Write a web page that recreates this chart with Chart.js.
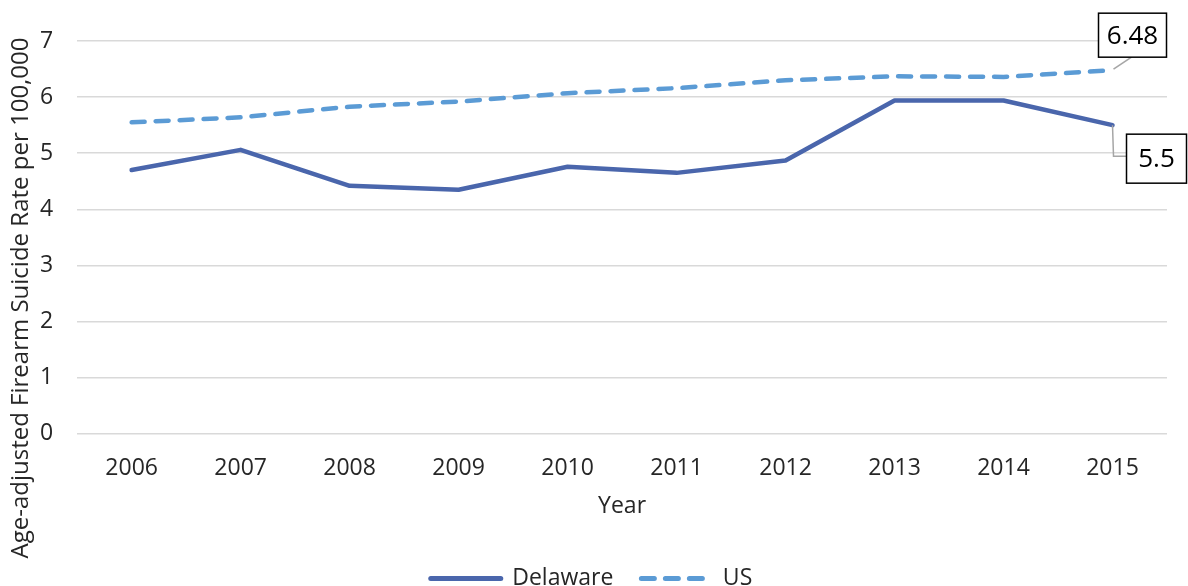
<!DOCTYPE html>
<html>
<head>
<meta charset="utf-8">
<script src="https://cdn.jsdelivr.net/npm/chart.js@4/dist/chart.umd.min.js"></script>
<style>
    html, body { margin: 0; padding: 0; background: #fff; }
    #wrap { width: 1188px; height: 586px; position: relative; }
</style>
</head>
<body>
<div id="wrap"><canvas id="myChart" width="1188" height="586"></canvas></div>
<script>
const years = ['2006', '2007', '2008', '2009', '2010', '2011', '2012', '2013', '2014', '2015'];
const delaware = [4.70, 5.06, 4.42, 4.35, 4.76, 4.65, 4.87, 5.94, 5.94, 5.5];
const us = [5.55, 5.64, 5.83, 5.92, 6.07, 6.16, 6.30, 6.37, 6.36, 6.48];
const yTicks = [0, 1, 2, 3, 4, 5, 6, 7];

const fontName = "'Open Sans', sans-serif";
const textColor = '#262626';

// y axis title, centred on the whole figure like the original
const yTitlePlugin = {
    id: 'yTitle',
    afterDraw: function (chart) {
        const ctx = chart.ctx;
        ctx.save();
        ctx.translate(21, 298);
        ctx.rotate(-Math.PI / 2);
        ctx.font = `24px ${fontName}`;
        ctx.fillStyle = textColor;
        ctx.textAlign = 'center';
        ctx.textBaseline = 'middle';
        ctx.fillText('Age-adjusted Firearm Suicide Rate per 100,000', 0, 0);
        ctx.restore();
    }
};

// boxed labels on the last point of each line
const lastLabelPlugin = {
    id: 'lastLabel',
    afterDatasetsDraw: function (chart) {
        const ctx = chart.ctx;
        const last = years.length - 1;
        const usPt = chart.getDatasetMeta(1).data[last];
        const dePt = chart.getDatasetMeta(0).data[last];

        ctx.save();
        ctx.strokeStyle = '#a6a6a6';
        ctx.lineWidth = 1.5;
        // leader to 6.48
        ctx.beginPath();
        ctx.moveTo(usPt.x + 1, usPt.y - 1);
        ctx.lineTo(usPt.x + 19, usPt.y - 13);
        ctx.stroke();
        // leader to 5.5
        ctx.beginPath();
        ctx.moveTo(dePt.x, dePt.y);
        ctx.lineTo(dePt.x + 1, dePt.y + 31);
        ctx.lineTo(dePt.x + 14, dePt.y + 31);
        ctx.stroke();

        drawBox(ctx, us[last].toFixed(2), usPt.x - 14, usPt.y - 57, 68, 44);
        drawBox(ctx, String(delaware[last]), dePt.x + 14, dePt.y + 9, 60, 49);
        ctx.restore();
    }
};

function drawBox(ctx, text, x, y, w, h) {
    ctx.fillStyle = '#fff';
    ctx.fillRect(x, y, w, h);
    ctx.strokeStyle = '#000';
    ctx.lineWidth = 1.5;
    ctx.strokeRect(x, y, w, h);
    ctx.fillStyle = '#000';
    ctx.font = `26px ${fontName}`;
    ctx.textAlign = 'center';
    ctx.textBaseline = 'middle';
    ctx.fillText(text, x + w / 2, y + h / 2 + 1);
}

new Chart(document.getElementById('myChart'), {
    type: 'line',
    data: {
        labels: years,
        datasets: [{
            label: 'Delaware',
            data: delaware,
            borderColor: '#4a66ac',
            backgroundColor: '#4a66ac',
            borderWidth: 4.5,
            borderCapStyle: 'round',
            borderJoinStyle: 'round',
            pointRadius: 0,
            tension: 0,
        }, {
            label: 'US',
            data: us,
            borderColor: '#5b9bd5',
            backgroundColor: '#5b9bd5',
            borderWidth: 4.5,
            borderDash: [13, 11],
            borderCapStyle: 'round',
            pointRadius: 0,
            tension: 0,
        }]
    },
    options: {
        responsive: false,
        animation: false,
        layout: {
            padding: { top: 41, left: 16, right: 21, bottom: -14 }
        },
        plugins: {
            legend: {
                position: 'bottom',
                labels: {
                    usePointStyle: true,
                    pointStyleWidth: 70,
                    boxHeight: 6,
                    padding: 28,
                    color: textColor,
                    font: { family: fontName, size: 23 },
                    generateLabels: function (chart) {
                        return chart.data.datasets.map((ds, i) => ({
                            text: ds.label,
                            datasetIndex: i,
                            fillStyle: ds.borderColor,
                            strokeStyle: ds.borderColor,
                            lineWidth: 5,
                            lineDash: ds.borderDash || [],
                            lineCap: 'round',
                            pointStyle: 'line',
                            fontColor: textColor,
                            hidden: false
                        }));
                    }
                }
            },
            tooltip: { enabled: false }
        },
        scales: {
            x: {
                offset: true,
                grid: { display: false },
                border: { display: false },
                ticks: {
                    color: textColor,
                    padding: 13,
                    font: { family: fontName, size: 23 }
                },
                title: {
                    display: true,
                    text: 'Year',
                    color: textColor,
                    padding: { top: -3, bottom: 19 },
                    font: { family: fontName, size: 23 }
                }
            },
            y: {
                min: 0,
                max: 7,
                afterBuildTicks: function (axis) {
                    axis.ticks = yTicks.map(v => ({ value: v }));
                },
                grid: { color: '#d9d9d9', lineWidth: 1.5, drawTicks: false },
                border: { display: false },
                ticks: {
                    color: textColor,
                    padding: 24,
                    font: { family: fontName, size: 23 }
                }
            }
        }
    },
    plugins: [yTitlePlugin, lastLabelPlugin]
});
</script>
</body>
</html>
